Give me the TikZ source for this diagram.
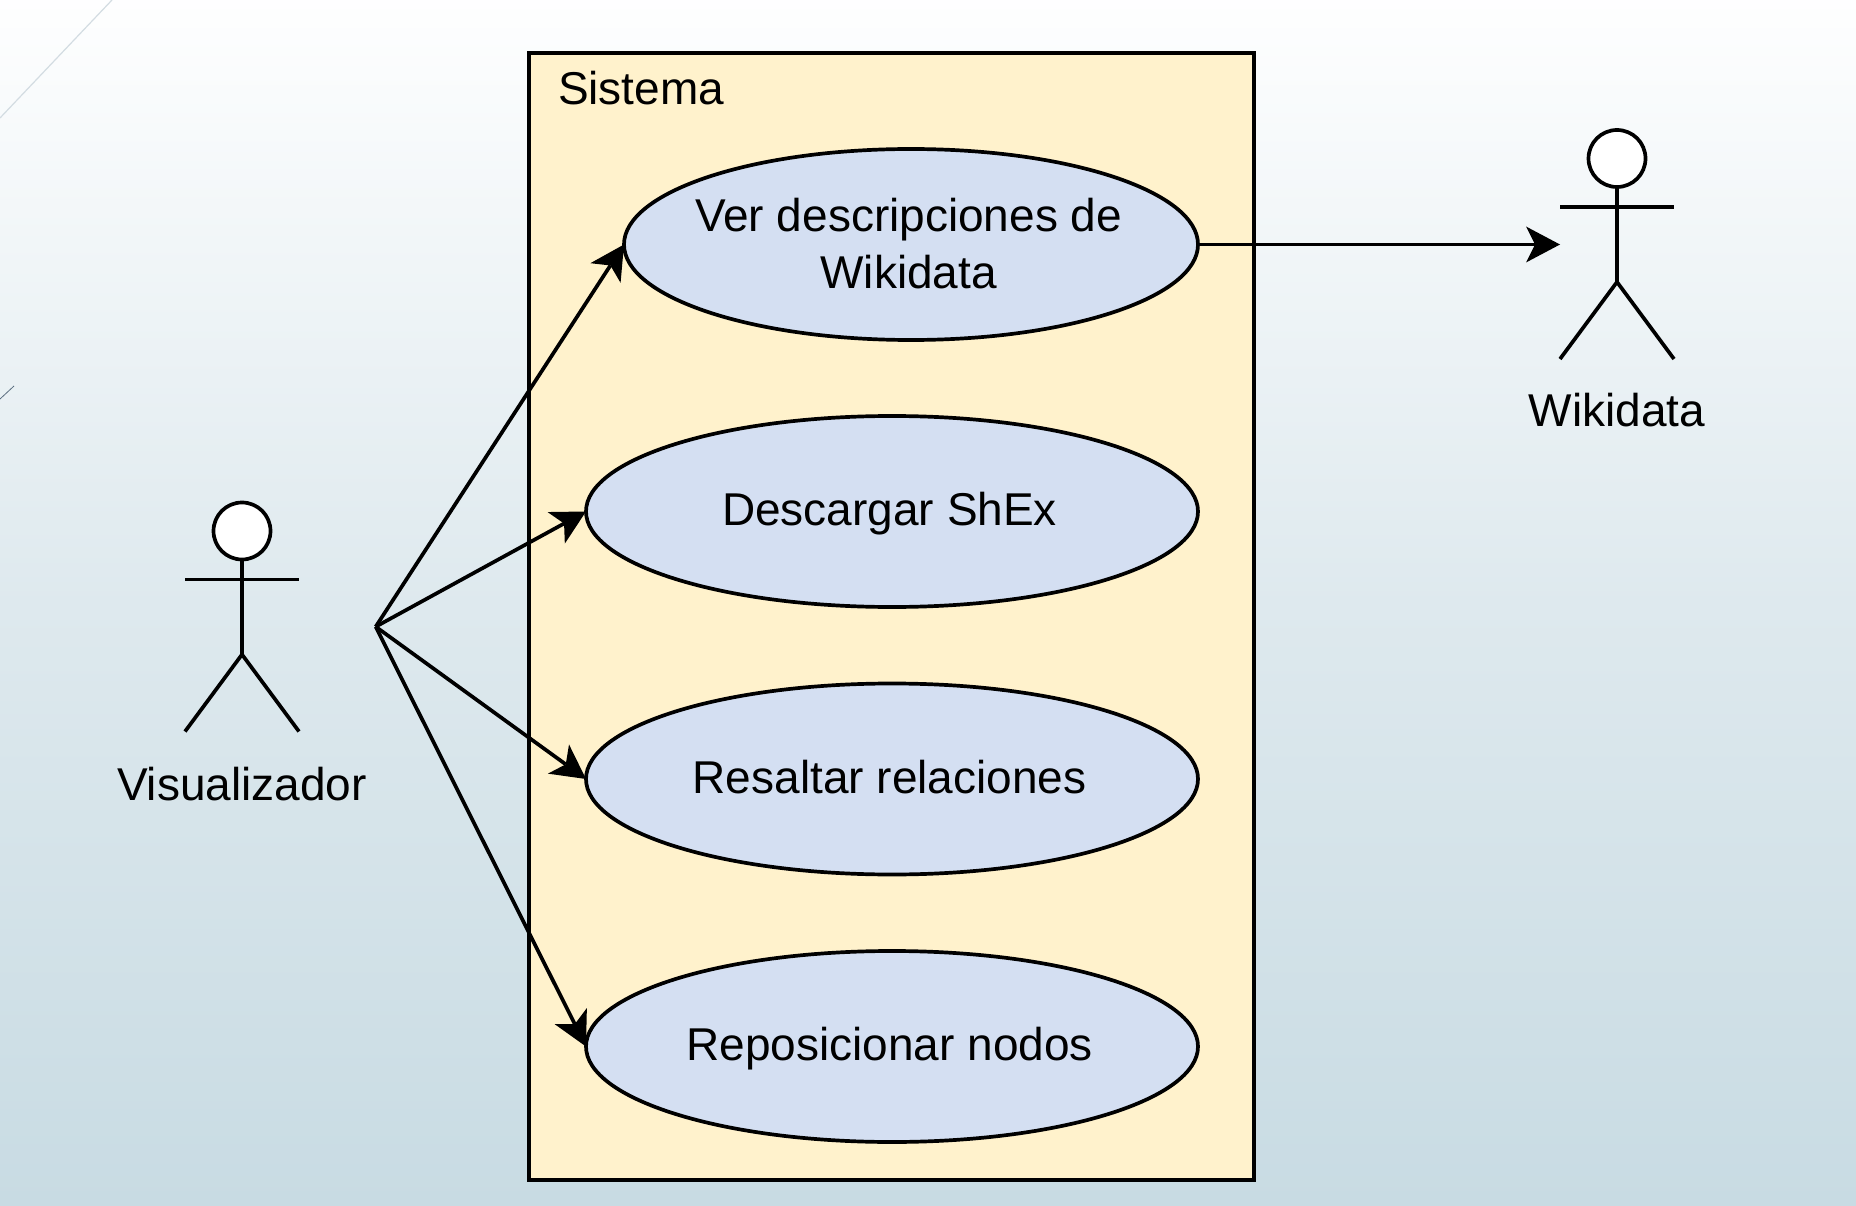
\documentclass[tikz,border=0pt]{standalone}
\usepackage{fontspec}
\setmainfont{Liberation Sans}
\usetikzlibrary{arrows.meta,shapes.geometric}
\definecolor{boxfill}{HTML}{FFF2CC}
\definecolor{ucfill}{HTML}{D4DFF2}
\definecolor{streaka}{HTML}{D3DCE2}
\definecolor{streakb}{HTML}{5A6E80}
\pgfdeclareverticalshading{bgshade}{100bp}{
  rgb(0bp)=(0.784,0.859,0.890);
  rgb(25bp)=(0.784,0.859,0.890);
  rgb(50bp)=(0.871,0.914,0.933);
  rgb(75bp)=(0.996,0.998,0.999);
  rgb(100bp)=(0.996,0.998,0.999)}
\tikzset{
  x=1pt,y=-1pt,
  txt/.style={font=\fontsize{46}{57}\selectfont,text=black,inner sep=0pt,outer sep=0pt},
  sysbox/.style={draw=black,fill=boxfill,line width=3.8pt},
  uc/.style={shape=ellipse,draw=black,fill=ucfill,line width=3.7pt,minimum width=574pt,minimum height=191pt,inner sep=0pt,outer sep=0pt},
  uctwo/.style={txt,align=center,xshift=-2.4pt,yshift=1pt},
  uctext/.style={txt,align=center,text height=33pt,text depth=9pt,xshift=-2.4pt,yshift=-2pt},
  lnk/.style={draw=black,line width=3.7pt,-{Stealth[length=34pt,width=36pt,inset=9pt,line width=0pt]}},
  limb/.style={draw=black,line width=3.7pt},
  headc/.style={shape=circle,draw=black,fill=white,line width=3.7pt,minimum size=57pt,inner sep=0pt,outer sep=0pt},
}
\newcommand{\actor}[2]{%
  \node[headc] (#2head) at (#1) {};
  \draw[limb] (#2head.south) -- ++(0,95) coordinate (#2hip);
  \draw[limb] ([xshift=-57pt,yshift=-20pt]#2head.south) -- ([xshift=57pt,yshift=-20pt]#2head.south);
  \draw[limb] ([xshift=-57pt,yshift=-77pt]#2hip) -- (#2hip) -- ([xshift=57pt,yshift=-77pt]#2hip);
}
\begin{document}
\begin{tikzpicture}
\useasboundingbox (0,0) rectangle (1856,1206);
\shade[shading=bgshade] (0,0) rectangle (1856,1206);
\draw[color=streaka,line width=1.2pt] (0,118) -- (112,0);
\draw[color=streakb,line width=0.8pt] (0,399) -- (14,386);
\node[sysbox,minimum width=725pt,minimum height=1127pt,inner sep=0pt,outer sep=0pt] (sys) at (891.5,616.5) {};
\node[txt,anchor=base west] (systitle) at (558,105) {Sistema};
\node[uc,minimum width=574pt,label={[uctwo]center:Ver descripciones de\\Wikidata}] (e1) at (911,244.5) {};
\node[uc,minimum width=612pt,label={[uctext]center:Descargar ShEx}] (e2) at (892,511.5) {};
\node[uc,minimum width=612pt,label={[uctext]center:Resaltar relaciones}] (e3) at (892,779) {};
\node[uc,minimum width=612pt,label={[uctext]center:Reposicionar nodos}] (e4) at (892,1046.5) {};
\actor{242,531}{vis}
\actor{1617,158.5}{wiki}
\node[txt,anchor=base] (vislabel) at (242,800) {Visualizador};
\node[txt,anchor=base] (wikilab) at (1617,426) {Wikidata};
\coordinate (src) at (375.7,626.7);
\coordinate (wikiin) at (1560,244.5);
\draw[lnk] (src) -- (e1.west);
\draw[lnk] (src) -- (e2.west);
\draw[lnk] (src) -- (e3.west);
\draw[lnk] (src) -- (e4.west);
\draw[lnk] (e1.east) -- (wikiin);
\end{tikzpicture}
\end{document}
